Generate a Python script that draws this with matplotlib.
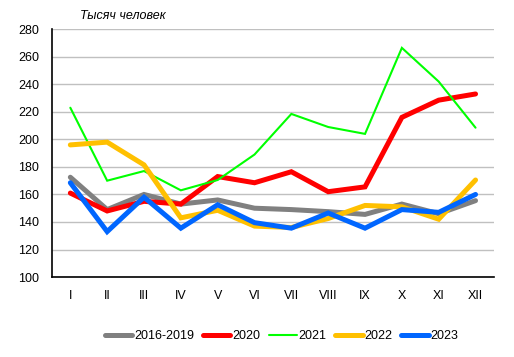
import matplotlib.pyplot as plt
import numpy as np

plt.rcParams['font.family'] = ['Liberation Sans', 'DejaVu Sans']

# месяцы
months = ['I', 'II', 'III', 'IV', 'V', 'VI', 'VII', 'VIII', 'IX', 'X', 'XI', 'XII']

# значения, тысяч человек
avg_2016_2019 = [172.5, 149, 160, 153, 156, 150, 149, 147.5, 145.5, 153, 146, 155.5]
y2020 = [161, 148, 155, 153, 173, 168.5, 176.5, 162, 165.5, 216, 228.5, 233]
y2021 = [223, 170, 177, 163, 170.5, 189, 218.5, 209, 204, 266.5, 242, 208.5]
y2022 = [196, 198, 181.5, 143, 148.5, 137, 136, 142.5, 152, 151, 142, 170.5]
y2023 = [168.5, 133, 158, 135.5, 152.5, 139.5, 135.5, 146.5, 135.5, 149, 147, 160]

series = [
    ('2016-2019', avg_2016_2019, '#808080', 3.6),
    ('2020', y2020, '#FF0000', 3.6),
    ('2021', y2021, '#00FF00', 1.5),
    ('2022', y2022, '#FFC000', 3.6),
    ('2023', y2023, '#0066FF', 3.6),
]

fig = plt.figure(figsize=(5.14, 3.57), dpi=100)
ax = fig.add_axes([0.101, 0.224, 0.86, 0.694])

x = np.arange(len(months))
for name, vals, col, lw in series:
    ax.plot(x, vals, color=col, lw=lw, label=name, solid_capstyle='round', solid_joinstyle='miter')

ax.set_xlim(-0.5, 11.5)
ax.set_ylim(100, 280)
ax.set_yticks(range(100, 281, 20))
ax.set_xticks(x)
ax.set_xticklabels(months)
ax.tick_params(length=0, labelsize=9, colors='black')
ax.tick_params(axis='y', pad=9)
ax.tick_params(axis='x', pad=9)
ax.yaxis.grid(True, color='#C0C0C0', lw=1)
ax.set_axisbelow(True)
for s in ['top', 'right']:
    ax.spines[s].set_visible(False)
ax.spines['left'].set_linewidth(1.2)
ax.spines['bottom'].set_linewidth(1.2)

fig.text(0.156, 0.955, 'Тысяч человек', fontsize=9, style='italic', ha='left', va='center')

fig.legend(loc='center', bbox_to_anchor=(0.548, 0.058), ncol=5, frameon=False,
           fontsize=9, handlelength=2.2, handletextpad=0.15, columnspacing=0.7)

fig.savefig('out.png', dpi=100)
